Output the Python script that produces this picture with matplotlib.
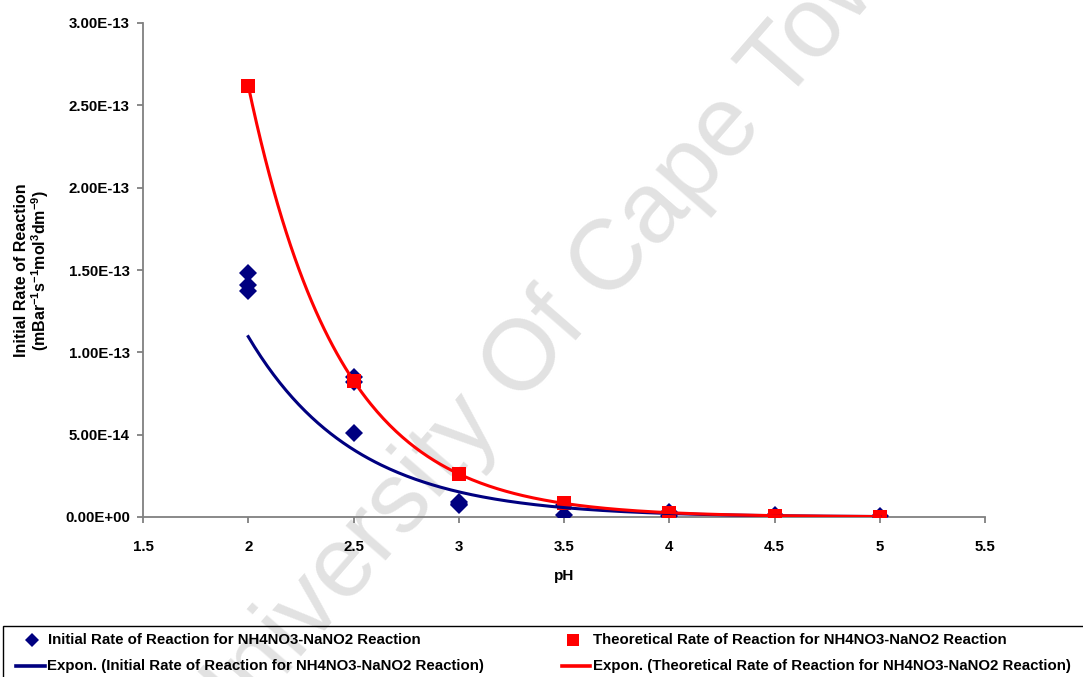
import numpy as np
import matplotlib
matplotlib.use("Agg")
import matplotlib.pyplot as plt
from matplotlib.lines import Line2D
from matplotlib.patches import Rectangle

plt.rcParams['font.family'] = ['Liberation Sans', 'DejaVu Sans']
plt.rcParams['font.weight'] = 'bold'
plt.rcParams['mathtext.fontset'] = 'custom'
plt.rcParams['mathtext.rm'] = 'Liberation Sans:bold'
plt.rcParams['mathtext.bf'] = 'Liberation Sans:bold'
plt.rcParams['mathtext.default'] = 'bf'

# Measured initial rates (mBar^-1 s^-1 mol^3 dm^-9), repeated runs at most pH values
ph_measured = [2, 2, 2, 2.5, 2.5, 2.5, 3, 3, 3, 3.5, 3.5, 4, 4, 4.5, 5]
rate_measured = [1.48e-13, 1.41e-13, 1.37e-13, 8.5e-14, 5.1e-14, 8.2e-14,
                 9.0e-15, 8.0e-15, 7.0e-15, 1.2e-15, 7.5e-15, 3.0e-15, 6e-16,
                 1.5e-15, 9e-16]

# Theoretical rates
ph_theory = [2, 2.5, 3, 3.5, 4, 4.5, 5]
rate_theory = [2.62e-13, 8.28e-14, 2.62e-14, 8.28e-15, 2.62e-15, 8.28e-16, 2.62e-16]

y_ticks = [0, 5e-14, 1e-13, 1.5e-13, 2e-13, 2.5e-13, 3e-13]
y_ticklabels = ["0.00E+00", "5.00E-14", "1.00E-13", "1.50E-13", "2.00E-13", "2.50E-13", "3.00E-13"]
x_ticks = [1.5, 2, 2.5, 3, 3.5, 4, 4.5, 5, 5.5]
x_ticklabels = ["1.5", "2", "2.5", "3", "3.5", "4", "4.5", "5", "5.5"]

label_measured = "Initial Rate of Reaction for NH4NO3-NaNO2 Reaction"
label_theory = "Theoretical Rate of Reaction for NH4NO3-NaNO2 Reaction"

navy = "#000080"
red = "#ff0000"
W, H = 1083, 677


def expon_fit(x, y):
    """Least-squares fit of y = a*exp(b*x) on log(y)."""
    b, ln_a = np.polyfit(np.asarray(x, float), np.log(np.asarray(y, float)), 1)
    return np.exp(ln_a), b


def fx(px):
    return px / W


def fy(py):
    return 1 - py / H


fig = plt.figure(figsize=(W / 100, H / 100), dpi=100)
ax = fig.add_axes([fx(143), fy(517), (985 - 143) / W, (517 - 23) / H])

# watermark, drawn beneath the axes
fig.text(fx(555), fy(327), "University Of Cape Town", fontsize=72, fontweight='normal',
         color="#e2e2e2", rotation=49, ha='center', va='center', zorder=-1,
         rotation_mode='anchor')

xs = np.linspace(min(ph_measured), max(ph_measured), 300)
a1, b1 = expon_fit(ph_measured, rate_measured)
a2, b2 = expon_fit(ph_theory, rate_theory)

ax.plot(ph_measured, rate_measured, linestyle='none', marker='D', ms=9.5,
        color=navy, mec=navy, mew=0, zorder=3)
ax.plot(ph_theory, rate_theory, linestyle='none', marker='s', ms=10.5,
        color=red, mec=red, mew=0, zorder=4)
ax.plot(xs, a1 * np.exp(b1 * xs), color=navy, lw=2.2, zorder=5)
ax.plot(xs, a2 * np.exp(b2 * xs), color=red, lw=2.2, zorder=5)

ax.set_xlim(1.5, 5.5)
ax.set_ylim(0, 3e-13)
ax.set_xticks(x_ticks)
ax.set_xticklabels(x_ticklabels)
ax.set_yticks(y_ticks)
ax.set_yticklabels(y_ticklabels)
ax.patch.set_alpha(0)
for s in ['top', 'right']:
    ax.spines[s].set_visible(False)
for s in ['left', 'bottom']:
    ax.spines[s].set_color('#808080')
    ax.spines[s].set_linewidth(1.3)
ax.tick_params(axis='both', direction='out', length=4.5, width=1.3, color='#808080',
               labelsize=10.8)
ax.tick_params(axis='x', pad=12)
ax.tick_params(axis='y', pad=5)
for lab in ax.get_xticklabels() + ax.get_yticklabels():
    lab.set_fontweight('bold')

ax.set_xlabel("pH", fontsize=11, fontweight='bold', labelpad=11)
ax.set_ylabel("Initial Rate of Reaction\n(mBar$^{-1}$s$^{-1}$mol$^{3}$dm$^{-9}$)",
              fontsize=11.5, fontweight='bold', labelpad=10, linespacing=1.05)

# legend box along the bottom edge
fig.add_artist(Rectangle((fx(3), fy(700)), fx(1100), fy(626) - fy(700),
                         transform=fig.transFigure, facecolor='none',
                         edgecolor='black', linewidth=1.0, zorder=1))
leg_font = dict(fontsize=10.85, fontweight='bold', va='center', ha='left', zorder=3)
row1, row2 = fy(640), fy(666)
fig.add_artist(Line2D([fx(32)], [row1], transform=fig.transFigure, marker='D', ms=7.5,
                      color=navy, mew=0, linestyle='none', zorder=3))
fig.add_artist(Line2D([fx(573)], [row1], transform=fig.transFigure, marker='s', ms=9,
                      color=red, mew=0, linestyle='none', zorder=3))
fig.add_artist(Line2D([fx(16), fx(45)], [row2, row2], transform=fig.transFigure,
                      color=navy, lw=2.6, zorder=3))
fig.add_artist(Line2D([fx(562), fx(590)], [row2, row2], transform=fig.transFigure,
                      color=red, lw=2.6, zorder=3))
fig.text(fx(48), row1, label_measured, **leg_font)
fig.text(fx(593), row1, label_theory, **leg_font)
fig.text(fx(47), row2, "Expon. (" + label_measured + ")", **leg_font)
fig.text(fx(593), row2, "Expon. (" + label_theory + ")", **leg_font)

fig.savefig("out.png", dpi=100)
